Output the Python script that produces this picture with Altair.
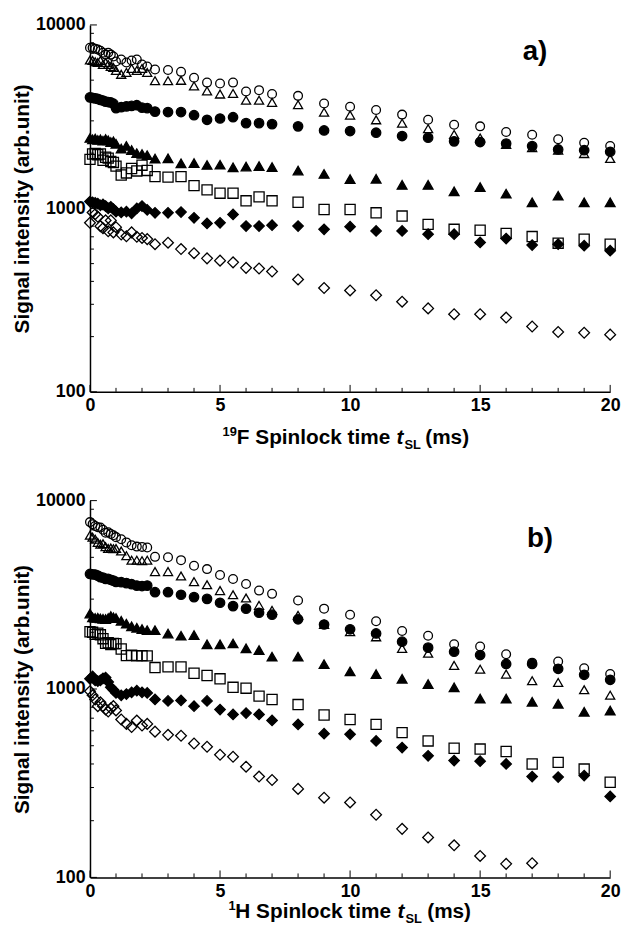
import altair as alt
import pandas as pd

FONT = "Liberation Sans"

T = [0, 0.1, 0.2, 0.3, 0.4, 0.5, 0.6, 0.7, 0.8, 0.9, 1.0, 1.2, 1.4, 1.6, 1.8, 2.0, 2.2,
     2.5, 3.0, 3.5, 4.0, 4.5, 5.0, 5.5, 6.0, 6.5, 7.0,
     8, 9, 10, 11, 12, 13, 14, 15, 16, 17, 18, 19, 20]

SERIES = ["open circle", "open triangle", "filled circle", "filled triangle",
          "open square", "filled diamond", "open diamond"]
SHAPES = ["circle", "triangle-up", "circle", "triangle-up", "square", "diamond", "diamond"]
FILLS = ["transparent", "transparent", "black", "black", "transparent", "black", "transparent"]
SIZES = [78, 118, 78, 118, 70, 108, 100]

# Panel a) 19F spinlock
a_open_circle = [7515, 7500, 7425, 7350, 7240, 7060, 6890, 7060, 6890, 6725, 6320, 6480, 6240, 6400, 6480, 6090, 5940,
                 5720, 5680, 5550, 5150, 4850, 4790, 4850, 4340, 4410, 4200,
                 4105, 3730, 3580, 3440, 3245, 3040, 2855, 2800, 2610, 2520, 2380, 2280, 2190]
a_open_triangle = [6440, 6400, 6300, 6240, 6400, 6090, 6240, 6090, 5940, 5860, 5650, 5380, 5510, 5790, 5650, 5790, 5510,
                   4970, 4970, 4990, 4650, 4370, 4200, 4230, 3890, 3890, 3785,
                   3675, 3345, 3225, 3040, 2915, 2720, 2530, 2420, 2235, 2145, 2075, 1990, 1870]
a_filled_circle = [4030, 4000, 3980, 3950, 3900, 3870, 3820, 3800, 3780, 3720, 3520, 3560, 3600, 3620, 3650, 3540, 3520,
                   3370, 3350, 3350, 3220, 3040, 3090, 3140, 2915, 2915, 2880,
                   2800, 2660, 2640, 2585, 2480, 2430, 2320, 2300, 2255, 2185, 2095, 2075, 2035]
a_filled_triangle = [2420, 2380, 2400, 2360, 2380, 2340, 2390, 2350, 2300, 2320, 2250, 2120, 2190, 2080, 2000, 1980, 1950,
                     1870, 1875, 1760, 1765, 1725, 1730, 1675, 1690, 1700, 1680,
                     1607, 1541, 1445, 1450, 1343, 1343, 1238, 1306, 1203, 1080, 1172, 1080, 1080]
a_open_square = [1850, 1980, 1990, 1960, 1980, 1830, 1900, 1880, 1800, 1780, 1700, 1520, 1560, 1650, 1600, 1720, 1610,
                 1490, 1480, 1490, 1330, 1262, 1210, 1210, 1100, 1155, 1100,
                 1080, 986, 986, 946, 908, 818, 769, 760, 731, 702, 646, 679, 638]
a_filled_diamond = [1090, 1080, 1070, 1060, 1040, 1050, 1030, 1000, 1020, 990, 960, 950, 960, 940, 1000, 1030, 980,
                    946, 946, 955, 889, 828, 835, 927, 801, 801, 810,
                    801, 769, 795, 753, 753, 723, 723, 652, 685, 631, 638, 626, 588]
a_open_diamond = [835, 950, 930, 900, 800, 780, 860, 750, 860, 740, 790, 720, 705, 740, 700, 690, 680,
                  638, 650, 600, 570, 534, 519, 508, 474, 470, 453,
                  410, 368, 357, 336, 310, 285, 265, 265, 254, 227, 212, 210, 205]

# Panel b) 1H spinlock
b_open_circle = [7690, 7500, 7330, 7220, 7200, 7000, 6760, 6800, 6650, 6550, 6400, 6240, 6000, 5800, 5700, 5680, 5640,
                 5030, 5000, 4830, 4510, 4330, 4030, 3840, 3610, 3330, 3200,
                 2950, 2670, 2480, 2290, 2030, 1918, 1727, 1680, 1528, 1380, 1400, 1290, 1200]
b_open_triangle = [6550, 6400, 6240, 6000, 5865, 5900, 5700, 5570, 5600, 5550, 5570, 5400, 5100, 4830, 4830, 4800, 4830,
                   4200, 4200, 3980, 3715, 3575, 3330, 3165, 3040, 2780, 2615,
                   2460, 2200, 2014, 1893, 1643, 1548, 1335, 1274, 1200, 1107, 1084, 991, 927]
b_filled_circle = [4080, 4060, 4050, 4000, 3920, 3900, 3840, 3840, 3800, 3760, 3700, 3690, 3650, 3600, 3540, 3520, 3540,
                   3265, 3265, 3165, 3075, 3010, 2870, 2755, 2670, 2540, 2480,
                   2345, 2200, 2075, 1972, 1783, 1658, 1578, 1515, 1358, 1358, 1280, 1190, 1119]
b_filled_triangle = [2514, 2400, 2384, 2390, 2370, 2360, 2350, 2380, 2440, 2400, 2380, 2300, 2223, 2150, 2112, 2080, 2053,
                     2053, 1970, 1918, 1935, 1727, 1727, 1745, 1643, 1610, 1485,
                     1485, 1355, 1240, 1200, 1132, 1062, 1020, 889, 889, 855, 834, 757, 769]
b_open_square = [2014, 2000, 1950, 1980, 1940, 1850, 1746, 1760, 1720, 1746, 1740, 1630, 1504, 1510, 1500, 1504, 1500,
                 1300, 1310, 1310, 1213, 1180, 1133, 1021, 1010, 917, 880,
                 827, 728, 689, 649, 587, 530, 485, 480, 466, 400, 408, 376, 320]
b_filled_diamond = [1133, 1166, 1110, 1100, 1110, 1140, 1150, 1090, 1021, 990, 953, 926, 940, 960, 980, 960, 953,
                    880, 865, 870, 811, 865, 778, 733, 745, 733, 681,
                    649, 579, 575, 530, 489, 442, 417, 414, 400, 343, 341, 347, 269]
b_open_diamond = [973, 926, 880, 811, 850, 811, 778, 760, 790, 811, 770, 689, 653, 628, 680, 640, 653,
                  594, 571, 565, 514, 494, 448, 437, 387, 343, 329,
                  295, 265, 250, 215, 181, 163, 148, 130, 118, 119, None, None, None]

Y_MAJOR = [100, 1000, 10000]
Y_MINOR = [200, 300, 400, 500, 600, 700, 800, 900, 2000, 3000, 4000, 5000, 6000, 7000, 8000, 9000]
X_MAJOR = [0, 5, 10, 15, 20]
X_MINOR = [1, 2, 3, 4, 6, 7, 8, 9, 11, 12, 13, 14, 16, 17, 18, 19]

Y_TITLE = "Signal intensity (arb.unit)"
XTITLE_A = ["19", "F Spinlock time", "t", "SL", "(ms)"]
XTITLE_B = ["1", "H Spinlock time", "t", "SL", "(ms)"]

W = 526

XS = alt.Scale(domain=[0, 20], nice=False, zero=False)
YS = alt.Scale(type="log", domain=[100, 10000], nice=False)
X_AXIS = alt.Axis(values=X_MAJOR, ticks=False, grid=False, domainColor="black", domainWidth=1.5,
                  labelFont=FONT, labelFontSize=18, labelFontWeight="bold", labelColor="black",
                  labelPadding=5, labelFlush=False, title=None)
Y_AXIS = alt.Axis(values=Y_MAJOR, format="d", ticks=False, grid=False, domainColor="black", domainWidth=1.5,
                  labelFont=FONT, labelFontSize=18, labelFontWeight="bold", labelColor="black",
                  labelPadding=5, title=Y_TITLE, titleFont=FONT, titleFontSize=21,
                  titleFontWeight="bold", titleColor="black", titlePadding=3)


def frame(series_values):
    rows = []
    for k, (name, vals) in enumerate(zip(SERIES, series_values)):
        for t, v in zip(T, vals):
            if v is not None:
                rows.append({"t": t, "v": v, "series": name, "k": k})
    return pd.DataFrame(rows)


def panel(series_values, height, title_parts, pos, letter, letter_xy, title_base):
    df = frame(series_values)
    points = alt.Chart(df).mark_point(filled=True, opacity=1, stroke="black", strokeWidth=1.3).encode(
        x=alt.X("t:Q", scale=XS, axis=X_AXIS),
        y=alt.Y("v:Q", scale=YS, axis=Y_AXIS),
        shape=alt.Shape("series:N", scale=alt.Scale(domain=SERIES, range=SHAPES), legend=None),
        fill=alt.Fill("series:N", scale=alt.Scale(domain=SERIES, range=FILLS), legend=None),
        size=alt.Size("series:N", scale=alt.Scale(domain=SERIES, range=SIZES), legend=None),
        order=alt.Order("k:Q"),
    )

    def yticks(vals, length):
        return alt.Chart(pd.DataFrame({"v": vals})).mark_rule(color="black", strokeWidth=1).encode(
            y=alt.Y("v:Q", scale=YS, axis=Y_AXIS), x=alt.value(0), x2=alt.value(length))

    def xticks(vals, length):
        return alt.Chart(pd.DataFrame({"t": vals})).mark_rule(color="black", strokeWidth=1).encode(
            x=alt.X("t:Q", scale=XS, axis=X_AXIS), y=alt.value(height), y2=alt.value(height - length))

    layers = [points, yticks(Y_MAJOR, 7), yticks(Y_MINOR, 4), xticks(X_MAJOR, 7), xticks(X_MINOR, 4)]

    def text(s, x, y, size, style="normal", align="left", baseline="alphabetic"):
        return alt.Chart(pd.DataFrame({"s": [s]})).mark_text(
            font=FONT, fontSize=size, fontWeight="bold", fontStyle=style, color="black",
            align=align, baseline=baseline).encode(text="s:N", x=alt.value(x), y=alt.value(y))

    sup, main, tt, sub, ms = title_parts
    layers += [
        text(sup, pos[0], title_base - 8, 13),
        text(main, pos[1], title_base, 21),
        text(tt, pos[2], title_base, 21, style="italic"),
        text(sub, pos[3], title_base + 5, 13),
        text(ms, pos[4], title_base, 21),
        text(letter, letter_xy[0], letter_xy[1], 28, align="center", baseline="middle"),
    ]
    return alt.layer(*layers).properties(width=W, height=height)


pa = panel([a_open_circle, a_open_triangle, a_filled_circle, a_filled_triangle,
            a_open_square, a_filled_diamond, a_open_diamond],
           371, XTITLE_A, [134, 148.5, 310, 318, 339], "a)", (450, 27), 424)
pb = panel([b_open_circle, b_open_triangle, b_filled_circle, b_filled_triangle,
            b_open_square, b_filled_diamond, b_open_diamond],
           381, XTITLE_B, [140, 147, 311, 319, 341], "b)", (455, 39), 422)

chart = alt.vconcat(pa, pb, spacing=110, bounds="flush").properties(
    padding={"left": 11, "top": 11, "right": 5, "bottom": 2}
).configure_view(stroke=None)

chart.save("out.html", embed_options={"renderer": "svg", "actions": False})
